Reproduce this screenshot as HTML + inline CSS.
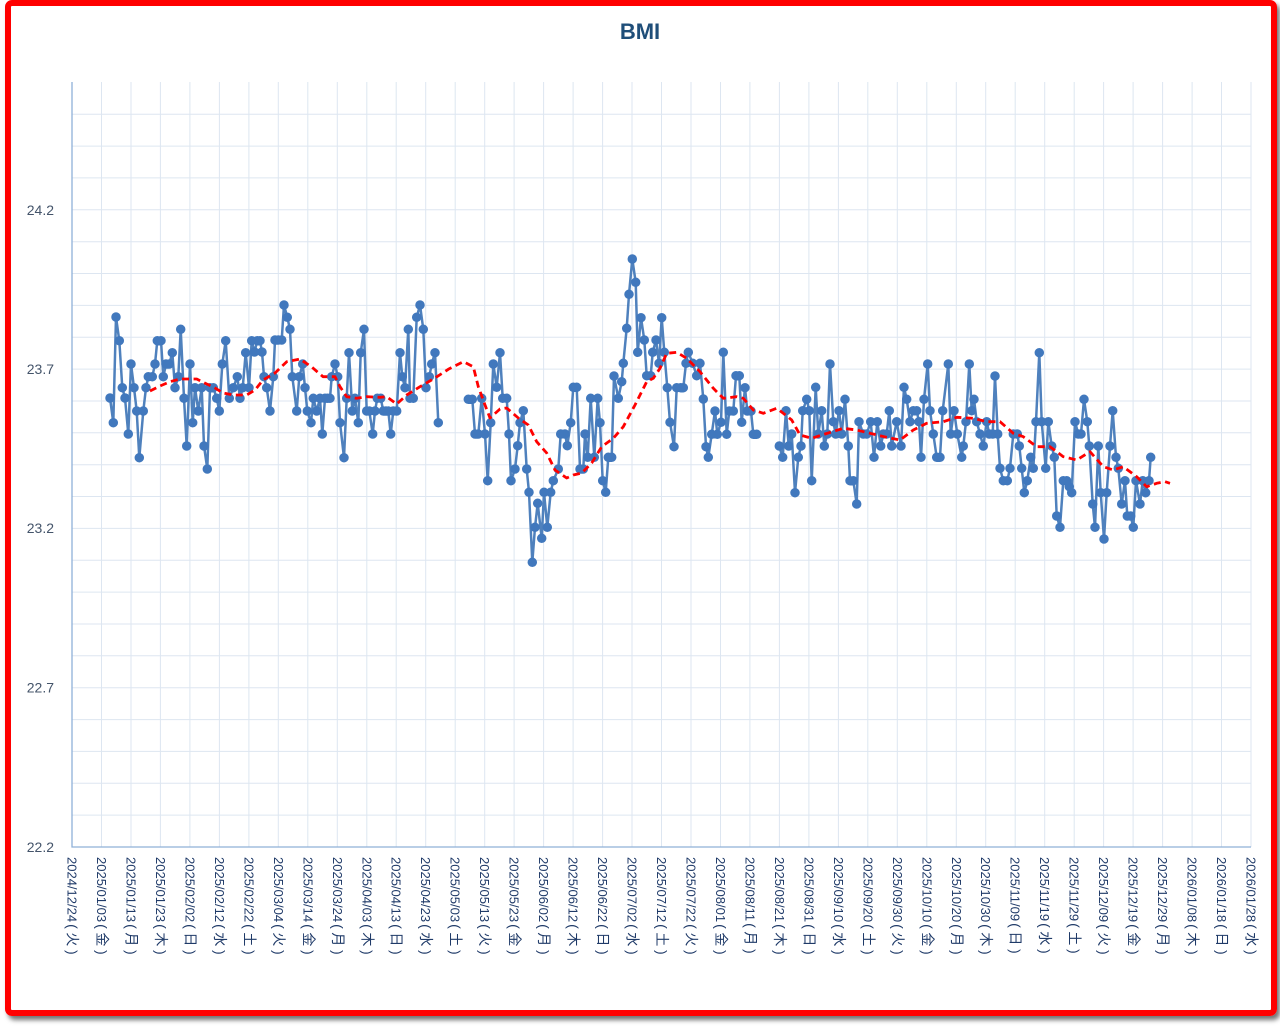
<!DOCTYPE html>
<html><head><meta charset="utf-8"><style>
html,body{margin:0;padding:0;background:#fff;width:1280px;height:1026px;overflow:hidden}
.frame{position:absolute;left:5px;top:0;width:1272px;height:1016px;box-sizing:border-box;border:6px solid #ff0000;border-radius:7px;box-shadow:3px 4px 5px rgba(0,0,0,0.55)}
svg{position:absolute;left:0;top:0}
.xl text{font-family:"Liberation Sans","Noto Sans CJK JP",sans-serif;font-size:13px;fill:#1f3a68}
.xl tspan{font-family:"Liberation Sans","Noto Sans CJK JP",sans-serif;font-size:14px;letter-spacing:3.6px}
</style></head><body>
<div class="frame"></div>
<svg width="1280" height="1026" viewBox="0 0 1280 1026" xmlns="http://www.w3.org/2000/svg">
<g stroke="#dde6f1" stroke-width="1" fill="none">
<path d="M101.5 82V847M131 82V847M160.4 82V847M189.9 82V847M219.4 82V847M248.9 82V847M278.3 82V847M307.8 82V847M337.3 82V847M366.8 82V847M396.2 82V847M425.7 82V847M455.2 82V847M484.7 82V847M514.1 82V847M543.6 82V847M573.1 82V847M602.6 82V847M632 82V847M661.5 82V847M691 82V847M720.5 82V847M749.9 82V847M779.4 82V847M808.9 82V847M838.4 82V847M867.8 82V847M897.3 82V847M926.8 82V847M956.3 82V847M985.7 82V847M1015.2 82V847M1044.7 82V847M1074.2 82V847M1103.6 82V847M1133.1 82V847M1162.6 82V847M1192.1 82V847M1221.5 82V847M1251 82V847"/>
<path d="M72 815.1H1251M72 783.3H1251M72 751.4H1251M72 719.6H1251M72 687.7H1251M72 655.8H1251M72 624H1251M72 592.1H1251M72 560.3H1251M72 528.4H1251M72 496.5H1251M72 464.7H1251M72 432.8H1251M72 401H1251M72 369.1H1251M72 337.2H1251M72 305.4H1251M72 273.5H1251M72 241.7H1251M72 209.8H1251M72 177.9H1251M72 146.1H1251M72 114.2H1251"/>
</g>
<path d="M72 82V847H1251" stroke="#8fb0d8" stroke-width="1.3" fill="none"/>
<text x="640" y="39" text-anchor="middle" font-family="Liberation Sans, sans-serif" font-weight="bold" font-size="22" fill="#1f4e79">BMI</text>
<g font-family="Liberation Sans, sans-serif" font-size="14" fill="#44546a" text-anchor="end">
<text x="54" y="852">22.2</text>
<text x="54" y="692.5">22.7</text>
<text x="54" y="533">23.2</text>
<text x="54" y="374">23.7</text>
<text x="54" y="215">24.2</text>
</g>
<g class="xl">
<text transform="translate(72,857) rotate(90)" y="4.5">2024/12/24<tspan dx="2">(火)</tspan></text>
<text transform="translate(101.5,857) rotate(90)" y="4.5">2025/01/03<tspan dx="2">(金)</tspan></text>
<text transform="translate(131,857) rotate(90)" y="4.5">2025/01/13<tspan dx="2">(月)</tspan></text>
<text transform="translate(160.4,857) rotate(90)" y="4.5">2025/01/23<tspan dx="2">(木)</tspan></text>
<text transform="translate(189.9,857) rotate(90)" y="4.5">2025/02/02<tspan dx="2">(日)</tspan></text>
<text transform="translate(219.4,857) rotate(90)" y="4.5">2025/02/12<tspan dx="2">(水)</tspan></text>
<text transform="translate(248.9,857) rotate(90)" y="4.5">2025/02/22<tspan dx="2">(土)</tspan></text>
<text transform="translate(278.3,857) rotate(90)" y="4.5">2025/03/04<tspan dx="2">(火)</tspan></text>
<text transform="translate(307.8,857) rotate(90)" y="4.5">2025/03/14<tspan dx="2">(金)</tspan></text>
<text transform="translate(337.3,857) rotate(90)" y="4.5">2025/03/24<tspan dx="2">(月)</tspan></text>
<text transform="translate(366.8,857) rotate(90)" y="4.5">2025/04/03<tspan dx="2">(木)</tspan></text>
<text transform="translate(396.2,857) rotate(90)" y="4.5">2025/04/13<tspan dx="2">(日)</tspan></text>
<text transform="translate(425.7,857) rotate(90)" y="4.5">2025/04/23<tspan dx="2">(水)</tspan></text>
<text transform="translate(455.2,857) rotate(90)" y="4.5">2025/05/03<tspan dx="2">(土)</tspan></text>
<text transform="translate(484.7,857) rotate(90)" y="4.5">2025/05/13<tspan dx="2">(火)</tspan></text>
<text transform="translate(514.1,857) rotate(90)" y="4.5">2025/05/23<tspan dx="2">(金)</tspan></text>
<text transform="translate(543.6,857) rotate(90)" y="4.5">2025/06/02<tspan dx="2">(月)</tspan></text>
<text transform="translate(573.1,857) rotate(90)" y="4.5">2025/06/12<tspan dx="2">(木)</tspan></text>
<text transform="translate(602.6,857) rotate(90)" y="4.5">2025/06/22<tspan dx="2">(日)</tspan></text>
<text transform="translate(632,857) rotate(90)" y="4.5">2025/07/02<tspan dx="2">(水)</tspan></text>
<text transform="translate(661.5,857) rotate(90)" y="4.5">2025/07/12<tspan dx="2">(土)</tspan></text>
<text transform="translate(691,857) rotate(90)" y="4.5">2025/07/22<tspan dx="2">(火)</tspan></text>
<text transform="translate(720.5,857) rotate(90)" y="4.5">2025/08/01<tspan dx="2">(金)</tspan></text>
<text transform="translate(749.9,857) rotate(90)" y="4.5">2025/08/11<tspan dx="2">(月)</tspan></text>
<text transform="translate(779.4,857) rotate(90)" y="4.5">2025/08/21<tspan dx="2">(木)</tspan></text>
<text transform="translate(808.9,857) rotate(90)" y="4.5">2025/08/31<tspan dx="2">(日)</tspan></text>
<text transform="translate(838.4,857) rotate(90)" y="4.5">2025/09/10<tspan dx="2">(水)</tspan></text>
<text transform="translate(867.8,857) rotate(90)" y="4.5">2025/09/20<tspan dx="2">(土)</tspan></text>
<text transform="translate(897.3,857) rotate(90)" y="4.5">2025/09/30<tspan dx="2">(火)</tspan></text>
<text transform="translate(926.8,857) rotate(90)" y="4.5">2025/10/10<tspan dx="2">(金)</tspan></text>
<text transform="translate(956.3,857) rotate(90)" y="4.5">2025/10/20<tspan dx="2">(月)</tspan></text>
<text transform="translate(985.7,857) rotate(90)" y="4.5">2025/10/30<tspan dx="2">(木)</tspan></text>
<text transform="translate(1015.2,857) rotate(90)" y="4.5">2025/11/09<tspan dx="2">(日)</tspan></text>
<text transform="translate(1044.7,857) rotate(90)" y="4.5">2025/11/19<tspan dx="2">(水)</tspan></text>
<text transform="translate(1074.2,857) rotate(90)" y="4.5">2025/11/29<tspan dx="2">(土)</tspan></text>
<text transform="translate(1103.6,857) rotate(90)" y="4.5">2025/12/09<tspan dx="2">(火)</tspan></text>
<text transform="translate(1133.1,857) rotate(90)" y="4.5">2025/12/19<tspan dx="2">(金)</tspan></text>
<text transform="translate(1162.6,857) rotate(90)" y="4.5">2025/12/29<tspan dx="2">(月)</tspan></text>
<text transform="translate(1192.1,857) rotate(90)" y="4.5">2026/01/08<tspan dx="2">(木)</tspan></text>
<text transform="translate(1221.5,857) rotate(90)" y="4.5">2026/01/18<tspan dx="2">(日)</tspan></text>
<text transform="translate(1251,857) rotate(90)" y="4.5">2026/01/28<tspan dx="2">(水)</tspan></text>
</g>

<g fill="none" stroke="#4f81bd" stroke-width="2.5" stroke-linejoin="round">
<polyline points="110,398 113.3,422.7 116,317 119.3,340.7 122.3,387.7 125,398 128.3,434 131,364 134,387.7 136.7,411 139.3,457.7 143.3,411 146,387.7 148.3,376.7 152.3,376.7 155,364 157.3,340.7 161,340.7 163.3,376.7 166,364 169.3,364 172.3,352.7 175,387.7 178.3,376.7 180.7,329.3 184,398.3 186.7,446 190,364 192.7,422.7 195,387.7 198.3,411 201.7,387.7 204,446 207.3,469 210,387.7 213.3,387.7 216.7,398.3 219.3,411 222.3,364 225.7,340.7 229.3,398.3 233.3,387.7 237.3,376.7 240,398.3 242.7,387.7 245.7,352.7 249,387.7 251.7,340.7 254.5,352 257.3,340.7 260,340.7 262,352 264,376.7 266.7,387.7 270,411 273.3,376.7 275,340 278.3,340 281.7,340 284,305 287.3,317.3 290,329.3 292.3,376.7 296.7,411 299.3,376.7 302.7,364 305,387.7 307.3,411 311,422.7 313.3,398.3 316.7,411 320,398.3 322.3,434 325,398.3 327.5,398.3 330,398.3 331.7,376.7 335,364 337.7,376.7 340,422.7 344,457.7 346.7,398.3 349,352.7 352.3,411 355,398.3 358.3,422.7 360.7,352.7 364,329.3 366.7,411 369.3,411 372.7,434 375,411 377.3,398.3 380.7,398.3 383.3,411 386,411 388.3,411 390.7,434 393.3,411 396.7,411 400,352.7 402.3,376.7 405,387.7 408.3,329.3 410,398.3 413.3,398.3 416.7,317.3 420,305 423.3,329.3 426,387.7 429.3,376.7 431.7,364 435,352.7 438.3,422.7"/>
<polyline points="468.3,399.3 472.3,399.3 475,434 478.3,434 481.7,398.3 485,434 487.7,480.7 490.7,422.7 493.3,364 496.7,387.3 500,352.7 502.7,398.3 506.7,398.3 509,434 511,480.7 515,469 517.7,445.7 520,422.7 523.3,410.7 526.7,469 529,492.3 532.3,562.3 535,527.3 537.7,503.3 541.7,538.3 544,492.3 547.3,527.3 550.7,492.3 553.3,480.7 558.3,469 560.7,434 565,434 567.3,445.7 570.7,422.7 573.3,387.3 576.7,387.3 580,469 583.3,469 585,434 587.7,457.3 590.7,398.3 594.3,457.3 597.7,398.3 600,422.7 602.7,480.7 605.7,492.3 608.3,457.3 611.7,457.3 614,376 618.3,398.3 621.7,381.7 623.3,363.3 626.7,328.3 629,294.3 632.3,259 635.7,282.3 637.7,352.3 641,317.7 644.3,340 646.7,375.7 650.7,375.7 652.7,352.3 656,340 659,363.3 661.7,317.7 664.3,352.3 667.3,387.7 670,422.3 674,446.7 676.7,387.7 680.7,387.7 683.3,387.7 686,363.3 688.3,352.3 692.7,363.3 696.7,375.7 700,363.3 703.3,399 706,446.7 708.3,457.3 711.7,434.3 715,411 717.3,434.3 721,422.3 723.3,352.3 726.7,434.3 729.3,411 733.3,411 736,375.7 739.3,375.7 741.7,422.3 745,387.7 747.3,411 751,411 753.3,434.3 756.7,434.3"/>
<polyline points="779.3,446 782.7,457.3 786,410.7 788.7,446 791.7,434 795,492.7 798.3,457.3 801,446 802.7,410.7 806.7,399.3 809.3,410.7 811.7,480.7 815.7,387.3 818.3,434 821.7,410.7 824.3,446 827.3,434 830,364 833.3,421.7 835.7,434 839,410.7 841.7,434 845,399.3 848.3,446 850,480.7 853.3,480.7 856.7,504 859,421.7 863.3,434 866.7,434 870.7,421.7 874,457.3 877.3,421.7 880.7,446 883.3,434 886.7,434 889.3,410.7 891.7,446 896.7,421.7 901,446 904,387.3 906.7,399.3 910,421.7 913.3,410.7 916.7,410.7 919,421.7 921,457.3 924,399.3 927.7,364 930,410.7 933.3,434 936.7,457.3 940,457.3 942.7,410.7 948.3,364 950.7,434 954,410.7 957.3,434 961.7,457.3 963.3,446 966,421.7 969.3,364 971.7,410.7 974,399.3 976.7,421.7 980,434 983.3,446 986.7,421.7 989.3,434 992.7,434 995,376 997.7,434 1000,468.3 1003.3,480.7 1007.3,480.7 1010,468.3 1013.3,434 1017.3,434 1019.3,446 1021.7,468.3 1024.3,492.7 1027.3,480.7 1030.7,457.3 1033.3,468.3 1036,421.7 1039.3,352.7 1041.7,421.7 1045.7,468.3 1048.3,421.7 1051.7,446 1054.3,457.3 1056.7,516 1060,527.3 1063.3,480.7 1066.7,480.7 1069.3,486.7 1071.7,492.7 1075,421.7 1078.3,434 1081,434 1084,399.3 1087.3,421.7 1089.3,446 1092.7,504 1095,527.3 1098.3,446 1100.7,492.7 1104,539 1106.7,492.7 1110,446 1112.7,410.7 1116,457.3 1118.3,468.3 1121.7,504 1125,480.7 1127.3,516 1130.7,516 1133.3,527.3 1136,480.7 1140,504 1142.7,480.7 1145.7,492.7 1149,480.7 1150.7,457.3"/>
</g>

<g stroke="#4178bd" stroke-width="9.5" stroke-linecap="round" fill="none">
<path d="M110 398h0M113.3 422.7h0M116 317h0M119.3 340.7h0M122.3 387.7h0M125 398h0M128.3 434h0M131 364h0M134 387.7h0M136.7 411h0M139.3 457.7h0M143.3 411h0M146 387.7h0M148.3 376.7h0M152.3 376.7h0M155 364h0M157.3 340.7h0M161 340.7h0M163.3 376.7h0M166 364h0M169.3 364h0M172.3 352.7h0M175 387.7h0M178.3 376.7h0M180.7 329.3h0M184 398.3h0M186.7 446h0M190 364h0M192.7 422.7h0M195 387.7h0M198.3 411h0M201.7 387.7h0M204 446h0M207.3 469h0M210 387.7h0M213.3 387.7h0M216.7 398.3h0M219.3 411h0M222.3 364h0M225.7 340.7h0M229.3 398.3h0M233.3 387.7h0M237.3 376.7h0M240 398.3h0M242.7 387.7h0M245.7 352.7h0M249 387.7h0M251.7 340.7h0M254.5 352h0M257.3 340.7h0M260 340.7h0M262 352h0M264 376.7h0M266.7 387.7h0M270 411h0M273.3 376.7h0M275 340h0M278.3 340h0M281.7 340h0M284 305h0M287.3 317.3h0M290 329.3h0M292.3 376.7h0M296.7 411h0M299.3 376.7h0M302.7 364h0M305 387.7h0M307.3 411h0M311 422.7h0M313.3 398.3h0M316.7 411h0M320 398.3h0M322.3 434h0M325 398.3h0M327.5 398.3h0M330 398.3h0M331.7 376.7h0M335 364h0M337.7 376.7h0M340 422.7h0M344 457.7h0M346.7 398.3h0M349 352.7h0M352.3 411h0M355 398.3h0M358.3 422.7h0M360.7 352.7h0M364 329.3h0M366.7 411h0M369.3 411h0M372.7 434h0M375 411h0M377.3 398.3h0M380.7 398.3h0M383.3 411h0M386 411h0M388.3 411h0M390.7 434h0M393.3 411h0M396.7 411h0M400 352.7h0M402.3 376.7h0M405 387.7h0M408.3 329.3h0M410 398.3h0M413.3 398.3h0M416.7 317.3h0M420 305h0M423.3 329.3h0M426 387.7h0M429.3 376.7h0M431.7 364h0M435 352.7h0M438.3 422.7h0"/>
<path d="M468.3 399.3h0M472.3 399.3h0M475 434h0M478.3 434h0M481.7 398.3h0M485 434h0M487.7 480.7h0M490.7 422.7h0M493.3 364h0M496.7 387.3h0M500 352.7h0M502.7 398.3h0M506.7 398.3h0M509 434h0M511 480.7h0M515 469h0M517.7 445.7h0M520 422.7h0M523.3 410.7h0M526.7 469h0M529 492.3h0M532.3 562.3h0M535 527.3h0M537.7 503.3h0M541.7 538.3h0M544 492.3h0M547.3 527.3h0M550.7 492.3h0M553.3 480.7h0M558.3 469h0M560.7 434h0M565 434h0M567.3 445.7h0M570.7 422.7h0M573.3 387.3h0M576.7 387.3h0M580 469h0M583.3 469h0M585 434h0M587.7 457.3h0M590.7 398.3h0M594.3 457.3h0M597.7 398.3h0M600 422.7h0M602.7 480.7h0M605.7 492.3h0M608.3 457.3h0M611.7 457.3h0M614 376h0M618.3 398.3h0M621.7 381.7h0M623.3 363.3h0M626.7 328.3h0M629 294.3h0M632.3 259h0M635.7 282.3h0M637.7 352.3h0M641 317.7h0M644.3 340h0M646.7 375.7h0M650.7 375.7h0M652.7 352.3h0M656 340h0M659 363.3h0M661.7 317.7h0M664.3 352.3h0M667.3 387.7h0M670 422.3h0M674 446.7h0M676.7 387.7h0M680.7 387.7h0M683.3 387.7h0M686 363.3h0M688.3 352.3h0M692.7 363.3h0M696.7 375.7h0M700 363.3h0M703.3 399h0M706 446.7h0M708.3 457.3h0M711.7 434.3h0M715 411h0M717.3 434.3h0M721 422.3h0M723.3 352.3h0M726.7 434.3h0M729.3 411h0M733.3 411h0M736 375.7h0M739.3 375.7h0M741.7 422.3h0M745 387.7h0M747.3 411h0M751 411h0M753.3 434.3h0M756.7 434.3h0"/>
<path d="M779.3 446h0M782.7 457.3h0M786 410.7h0M788.7 446h0M791.7 434h0M795 492.7h0M798.3 457.3h0M801 446h0M802.7 410.7h0M806.7 399.3h0M809.3 410.7h0M811.7 480.7h0M815.7 387.3h0M818.3 434h0M821.7 410.7h0M824.3 446h0M827.3 434h0M830 364h0M833.3 421.7h0M835.7 434h0M839 410.7h0M841.7 434h0M845 399.3h0M848.3 446h0M850 480.7h0M853.3 480.7h0M856.7 504h0M859 421.7h0M863.3 434h0M866.7 434h0M870.7 421.7h0M874 457.3h0M877.3 421.7h0M880.7 446h0M883.3 434h0M886.7 434h0M889.3 410.7h0M891.7 446h0M896.7 421.7h0M901 446h0M904 387.3h0M906.7 399.3h0M910 421.7h0M913.3 410.7h0M916.7 410.7h0M919 421.7h0M921 457.3h0M924 399.3h0M927.7 364h0M930 410.7h0M933.3 434h0M936.7 457.3h0M940 457.3h0M942.7 410.7h0M948.3 364h0M950.7 434h0M954 410.7h0M957.3 434h0M961.7 457.3h0M963.3 446h0M966 421.7h0M969.3 364h0M971.7 410.7h0M974 399.3h0M976.7 421.7h0M980 434h0M983.3 446h0M986.7 421.7h0M989.3 434h0M992.7 434h0M995 376h0M997.7 434h0M1000 468.3h0M1003.3 480.7h0M1007.3 480.7h0M1010 468.3h0M1013.3 434h0M1017.3 434h0M1019.3 446h0M1021.7 468.3h0M1024.3 492.7h0M1027.3 480.7h0M1030.7 457.3h0M1033.3 468.3h0M1036 421.7h0M1039.3 352.7h0M1041.7 421.7h0M1045.7 468.3h0M1048.3 421.7h0M1051.7 446h0M1054.3 457.3h0M1056.7 516h0M1060 527.3h0M1063.3 480.7h0M1066.7 480.7h0M1069.3 486.7h0M1071.7 492.7h0M1075 421.7h0M1078.3 434h0M1081 434h0M1084 399.3h0M1087.3 421.7h0M1089.3 446h0M1092.7 504h0M1095 527.3h0M1098.3 446h0M1100.7 492.7h0M1104 539h0M1106.7 492.7h0M1110 446h0M1112.7 410.7h0M1116 457.3h0M1118.3 468.3h0M1121.7 504h0M1125 480.7h0M1127.3 516h0M1130.7 516h0M1133.3 527.3h0M1136 480.7h0M1140 504h0M1142.7 480.7h0M1145.7 492.7h0M1149 480.7h0M1150.7 457.3h0"/>
</g>

<polyline fill="none" stroke="#ff0000" stroke-width="2.8" stroke-dasharray="7,4.5" stroke-linejoin="round" points="150,391 160,386 170,381.7 180,379 196.7,379 206.7,384 213,386.7 223,393 233,395 246.7,395 255,390 263,380 275,373 286.7,361.7 300,359 311.7,367 323,376.7 335,376.7 340,386.7 346.7,396.7 356.7,398.3 366.7,396.7 380,397.3 386.7,396.7 396.7,404 406.7,395 420,386.7 435,378 448.3,369.3 463.3,361.7 473.3,366.7 478.3,386.7 485,405 490,418 500,409 506.7,408 518.3,418 528.3,425 536.7,441.7 546.7,453 555,470 566.7,478 573.3,475 581.7,473 591.7,463 601.7,446.7 613.3,438.3 623.3,426.7 635,405 646.7,381.7 653.3,378.3 660,368.3 666.7,353.3 676.7,352.3 686.7,358.3 700,371.7 713.3,388.3 723.3,398.3 736.7,396.7 743.3,398.3 753.3,410 763.3,413.3 776.7,408.3 783.3,413.3 791.7,420 800,435 811.7,438.3 825,434 843.3,428.3 856.7,430 870,433.3 886.7,437.3 900,440 913.3,430 926.7,423.3 943.3,421.7 956.7,417.3 973.3,418.3 986.7,421.7 1000,421.7 1013.3,433.3 1023.3,436.7 1036.7,446.7 1050,446.7 1063.3,456.7 1076.7,460 1090,451.7 1103.3,466.7 1113.3,470 1123.3,466.7 1136.7,476.7 1146.7,486.7 1156.7,483.3 1165,481.7 1170,483.3"/>
</svg>
</body></html>
